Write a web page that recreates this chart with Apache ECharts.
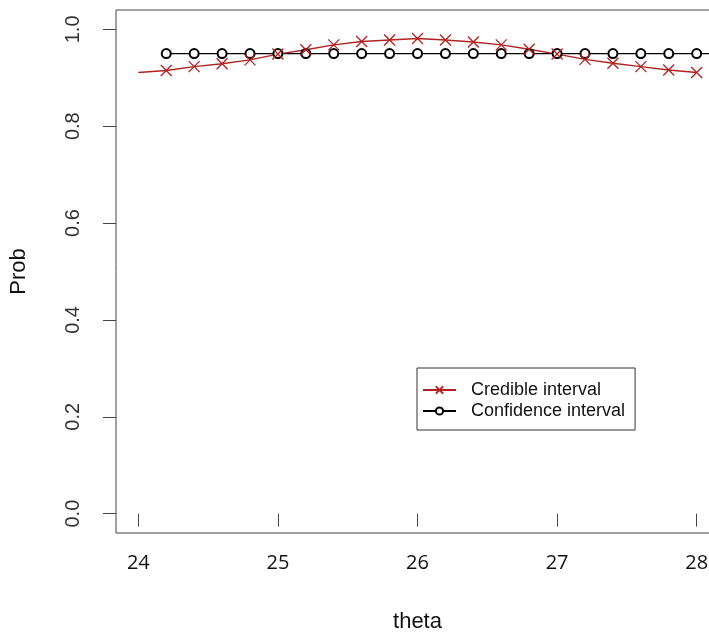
<!DOCTYPE html>
<html>
<head>
<meta charset="utf-8">
<title>Prob vs theta</title>
<script src="https://cdn.jsdelivr.net/npm/echarts@6/dist/echarts.min.js"></script>
<style>
  html, body { margin: 0; padding: 0; background: #fff; }
  #chart { width: 709px; height: 637px; }
</style>
</head>
<body>
<div id="chart"></div>
<script>
// values
const credTheta = [24.0, 24.2, 24.4, 24.6, 24.8, 25.0, 25.2, 25.4, 25.6, 25.8, 26.0,
  26.2, 26.4, 26.6, 26.8, 27.0, 27.2, 27.4, 27.6, 27.8, 28.0]
const credProb = [0.911, 0.915, 0.923, 0.929, 0.937, 0.949, 0.958, 0.968, 0.975, 0.978, 0.981,
  0.978, 0.974, 0.968, 0.959, 0.949, 0.938, 0.930, 0.923, 0.916, 0.911]
const confTheta = [24.2, 24.4, 24.6, 24.8, 25.0, 25.2, 25.4, 25.6, 25.8, 26.0, 26.2,
  26.4, 26.6, 26.8, 27.0, 27.2, 27.4, 27.6, 27.8, 28.0, 28.2]
const confProb = [0.95, 0.95, 0.95, 0.95, 0.95, 0.95, 0.95, 0.95, 0.95, 0.95, 0.95,
  0.95, 0.95, 0.95, 0.95, 0.95, 0.95, 0.95, 0.95, 0.95, 0.95]
const xTicks = [24, 25, 26, 27, 28]
const yTicks = [0, 0.2, 0.4, 0.6, 0.8, 1.0]

const red = '#b22222'
const frame = '#444'

// first red point has the line only, no marker
const credData = credTheta.map((t, i) => {
  const item = { value: [t, credProb[i]] }
  if (i === 0) item.symbol = 'none'
  return item
})
const confData = confTheta.map((t, i) => [t, confProb[i]])

const chart = echarts.init(document.getElementById('chart'))
chart.setOption({
  animation: false,
  backgroundColor: '#fff',
  grid: {
    left: 116,
    top: 10,
    width: 603,
    height: 523,
    show: true,
    borderColor: frame,
    borderWidth: 1,
    outerBoundsMode: 'none'
  },
  legend: {
    orient: 'vertical',
    left: 417,
    top: 368,
    padding: [13, 10, 10, 5],
    itemGap: 3,
    itemWidth: 33,
    itemHeight: 9,
    borderColor: '#333',
    borderWidth: 1,
    textStyle: {
      fontFamily: 'Liberation Sans',
      fontSize: 18,
      color: '#111',
      padding: [0, 0, 0, 10]
    },
    data: ['Credible interval', 'Confidence interval']
  },
  xAxis: {
    type: 'value',
    min: 23.84,
    max: 28.16,
    name: 'theta',
    nameLocation: 'middle',
    nameGap: 78,
    nameTextStyle: { fontFamily: 'Liberation Sans', fontSize: 22, color: '#111' },
    axisLine: { show: false },
    splitLine: { show: false },
    axisTick: {
      customValues: xTicks,
      length: 13,
      lineStyle: { color: frame }
    },
    axisLabel: {
      customValues: xTicks,
      margin: 20,
      fontFamily: 'Open Sans',
      fontSize: 20,
      color: '#111'
    }
  },
  yAxis: {
    type: 'value',
    min: -0.04,
    max: 1.04,
    name: 'Prob',
    nameLocation: 'middle',
    nameGap: 86,
    nameTextStyle: { fontFamily: 'Liberation Sans', fontSize: 22, color: '#111' },
    axisLine: { show: false },
    splitLine: { show: false },
    axisTick: {
      customValues: yTicks,
      length: 13,
      lineStyle: { color: frame }
    },
    axisLabel: {
      customValues: yTicks,
      rotate: 90,
      margin: 33,
      fontFamily: 'Liberation Sans',
      fontSize: 20,
      color: '#333',
      formatter: (v) => v.toFixed(1)
    }
  },
  series: [
    {
      name: 'Confidence interval',
      type: 'line',
      data: confData,
      symbol: 'emptyCircle',
      symbolSize: 9,
      lineStyle: { color: '#000', width: 1.2 },
      itemStyle: { color: '#000', borderColor: '#222', borderWidth: 0.8 }
    },
    {
      name: 'Credible interval',
      type: 'line',
      data: credData,
      symbol: 'path://M0 0L10 10M10 0L0 10',
      symbolSize: 11,
      lineStyle: { color: red, width: 1.4 },
      itemStyle: { color: red, borderColor: red, borderWidth: 1.3 }
    }
  ]
})
</script>
</body>
</html>
